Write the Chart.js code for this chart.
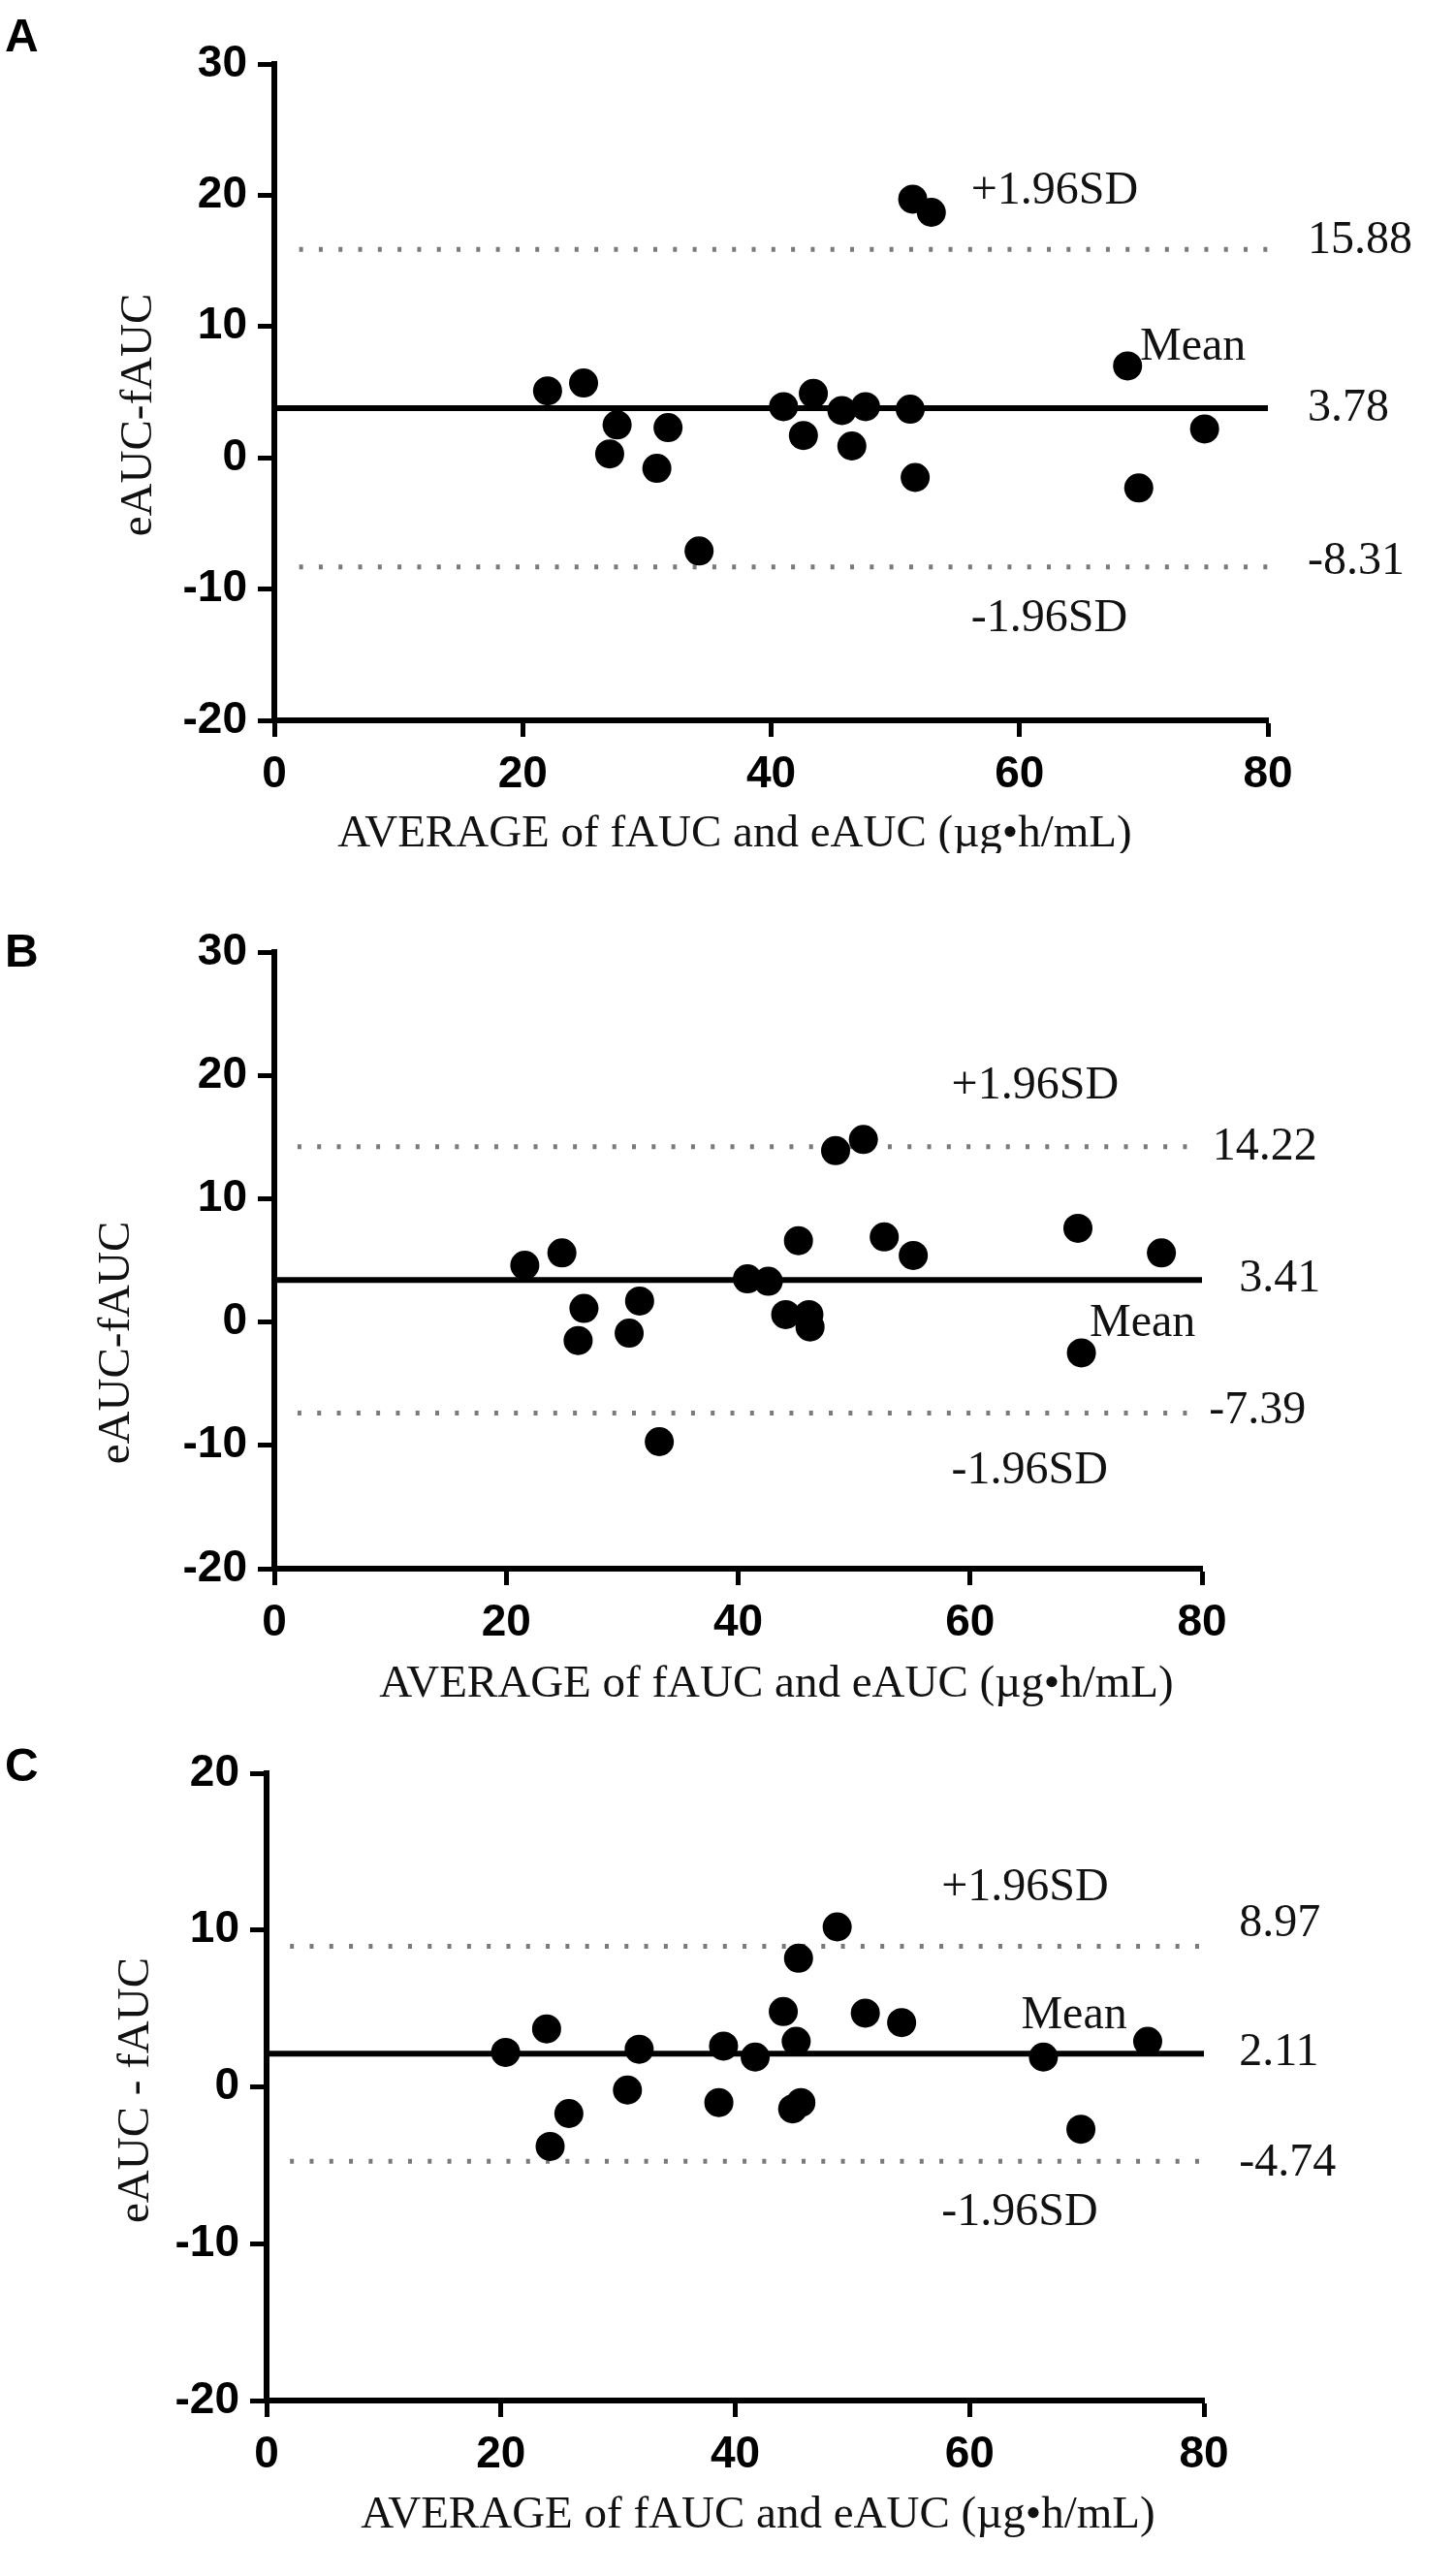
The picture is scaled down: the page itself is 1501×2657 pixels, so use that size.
<!DOCTYPE html>
<html>
<head>
<meta charset="utf-8">
<title>Bland-Altman plots</title>
<script src="https://cdn.jsdelivr.net/npm/chart.js@4.4.0/dist/chart.umd.min.js"></script>
<style>
  html, body { margin: 0; padding: 0; background: #fff; }
  #page { position: relative; width: 1501px; height: 2657px; background: #fff; overflow: hidden; }
  canvas { position: absolute; left: 0; }
</style>
</head>
<body>
<div id="page">
  <canvas id="chartA" width="1501" height="880" style="top:0px"></canvas>
  <canvas id="chartB" width="1501" height="880" style="top:880px"></canvas>
  <canvas id="chartC" width="1501" height="897" style="top:1760px"></canvas>
</div>
<script>
// values: x = average of fAUC and eAUC, y = eAUC - fAUC
const avgA = [22.0, 24.9, 27.0, 27.6, 30.8, 31.7, 34.2, 41.0, 42.6, 43.4, 45.7, 46.5, 47.6, 51.2, 51.6, 51.4, 52.9, 68.7, 69.6, 74.9];
const diffA = [5.1, 5.7, 0.3, 2.5, -0.8, 2.3, -7.1, 3.9, 1.7, 4.9, 3.6, 0.9, 3.9, 3.7, -1.5, 19.7, 18.7, 7.0, -2.3, 2.2];

const avgB = [21.6, 24.8, 26.7, 26.2, 30.6, 31.5, 33.2, 40.8, 42.6, 45.2, 44.1, 46.1, 46.2, 48.4, 50.8, 52.6, 55.1, 69.3, 69.6, 76.5];
const diffB = [4.6, 5.6, 1.1, -1.5, -0.9, 1.7, -9.7, 3.5, 3.3, 6.6, 0.6, 0.6, -0.4, 13.9, 14.8, 6.9, 5.4, 7.6, -2.5, 5.6];

const avgC = [20.4, 23.9, 24.2, 25.8, 30.8, 31.8, 38.6, 39.0, 41.7, 44.1, 45.2, 45.4, 44.9, 45.6, 48.7, 51.1, 54.2, 66.3, 69.5, 75.2];
const diffC = [2.2, 3.7, -3.8, -1.7, -0.2, 2.4, -1.0, 2.6, 1.9, 4.8, 2.9, 8.2, -1.4, -1.0, 10.2, 4.7, 4.1, 1.9, -2.7, 2.9];

// mean difference and limits of agreement (+/-1.96SD)
const MEANS = [3.78, 3.41, 2.11];
const UPPER = [15.88, 14.22, 8.97];
const LOWER = [-8.31, -7.39, -4.74];

const PANEL_NAMES = ['A', 'B', 'C'];
const Y_TITLES = ['eAUC-fAUC', 'eAUC-fAUC', 'eAUC - fAUC'];
const X_TITLE = 'AVERAGE of fAUC and eAUC (\u00b5g\u2022h/mL)';
const Y_MIN = [-20, -20, -20];
const Y_MAX = [30, 30, 20];
const X_MIN = 0;
const X_MAX = 80;
const X_STEP = 20;
const Y_STEP = 10;
const LIMIT_START = 2; // the dotted lines start a little right of the y axis

// where each panel sits inside its canvas (pixels)
const boxes = [
    { left: 283, right: 193, top: 66, xh: 137, letterY: 40, yt: [144, 428], xt: [758, 861] },
    { left: 283, right: 261, top: 102, xh: 142, letterY: 104, yt: [121, 505], xt: [801, 858] },
    { left: 275, right: 259, top: 69, xh: 181, letterY: 64, yt: [141, 396], xt: [782, 835] }
];

// annotation text, placed in data units
const notes = [
    { sdX: 56.1, upY: 20.3, loY: -12.3, meanX: 69.7, meanY: 8.4, valX: [83.2, 83.2, 83.2], valY: [16.5, 3.78, -7.9] },
    { sdX: 58.4, upY: 19.1, loY: -12.1, meanX: 70.3, meanY: -0.15, valX: [80.9, 83.2, 80.6], valY: [14.2, 3.5, -7.2] },
    { sdX: 57.6, upY: 12.7, loY: -8.0, meanX: 64.4, meanY: 4.5, valX: [83.0, 83.0, 83.0], valY: [10.4, 2.2, -4.9] }
];

const SERIF = '"Liberation Serif", "Times New Roman", serif';
const SANS = '"Liberation Sans", Arial, sans-serif';

// draws the panel letter, axis titles and the SD / mean labels
const panelText = {
    id: 'panelText',
    afterDraw(chart, args, opts) {
        const { ctx, scales } = chart;
        const x = scales.x, y = scales.y;
        const n = opts.note;
        ctx.save();
        ctx.fillStyle = '#000';
        ctx.textBaseline = 'middle';

        ctx.font = 'bold 48px ' + SANS;
        ctx.textAlign = 'left';
        ctx.fillText(opts.letter, 5, opts.box.letterY);

        ctx.font = '47px ' + SERIF;
        ctx.fillStyle = '#111';
        ctx.textAlign = 'center';
        ctx.fillText(X_TITLE, opts.box.xt[0], opts.box.xt[1]);
        ctx.save();
        ctx.translate(opts.box.yt[0], opts.box.yt[1]);
        ctx.rotate(-Math.PI / 2);
        ctx.fillText(opts.yTitle, 0, 0);
        ctx.restore();

        ctx.font = '48px ' + SERIF;
        ctx.textAlign = 'left';
        ctx.fillText('+1.96SD', x.getPixelForValue(n.sdX), y.getPixelForValue(n.upY));
        ctx.fillText('-1.96SD', x.getPixelForValue(n.sdX), y.getPixelForValue(n.loY));
        ctx.fillText('Mean', x.getPixelForValue(n.meanX), y.getPixelForValue(n.meanY));
        const vals = [opts.upper, opts.mean, opts.lower];
        vals.forEach((v, k) => {
            ctx.fillText(v.toFixed(2), x.getPixelForValue(n.valX[k]), y.getPixelForValue(n.valY[k]));
        });
        ctx.restore();
    }
};

function makePoints(xs, ys) {
    return xs.map((v, i) => ({ x: v, y: ys[i] }));
}

function limitLine(value) {
    return {
        type: 'line',
        data: [{ x: LIMIT_START, y: value }, { x: X_MAX, y: value }],
        borderColor: '#7a7a7a',
        borderWidth: 5,
        borderDash: [4, 16.3],
        pointRadius: 0
    };
}

function drawPanel(canvasId, i, xs, ys) {
    const box = boxes[i];
    const tickFont = { family: SANS, weight: 'bold', size: 46 };
    const grid = { drawOnChartArea: false, tickLength: 17, tickColor: '#000', tickWidth: 5 };
    const border = { display: true, color: '#000', width: 6 };

    new Chart(document.getElementById(canvasId), {
        data: {
            datasets: [
                {
                    type: 'scatter',
                    data: makePoints(xs, ys),
                    backgroundColor: '#000',
                    borderWidth: 0,
                    pointRadius: 15,
                    pointHoverRadius: 15
                },
                {
                    type: 'line',
                    data: [{ x: X_MIN, y: MEANS[i] }, { x: X_MAX, y: MEANS[i] }],
                    borderColor: '#000',
                    borderWidth: 6,
                    pointRadius: 0
                },
                limitLine(UPPER[i]),
                limitLine(LOWER[i])
            ]
        },
        options: {
            responsive: false,
            animation: false,
            devicePixelRatio: 1,
            layout: { padding: { left: 0, top: box.top, right: box.right, bottom: 0 } },
            plugins: {
                legend: { display: false },
                tooltip: { enabled: false },
                panelText: {
                    letter: PANEL_NAMES[i],
                    yTitle: Y_TITLES[i],
                    box: box,
                    note: notes[i],
                    mean: MEANS[i],
                    upper: UPPER[i],
                    lower: LOWER[i]
                }
            },
            scales: {
                x: {
                    type: 'linear',
                    min: X_MIN,
                    max: X_MAX,
                    ticks: { stepSize: X_STEP, color: '#000', font: tickFont, padding: 12 },
                    grid: grid,
                    border: border,
                    afterFit: (s) => { s.height = box.xh; }
                },
                y: {
                    type: 'linear',
                    min: Y_MIN[i],
                    max: Y_MAX[i],
                    ticks: { stepSize: Y_STEP, color: '#000', font: tickFont, padding: 11 },
                    grid: grid,
                    border: border,
                    afterFit: (s) => { s.width = box.left; }
                }
            }
        },
        plugins: [panelText]
    });
}

drawPanel('chartA', 0, avgA, diffA);
drawPanel('chartB', 1, avgB, diffB);
drawPanel('chartC', 2, avgC, diffC);
</script>
</body>
</html>
